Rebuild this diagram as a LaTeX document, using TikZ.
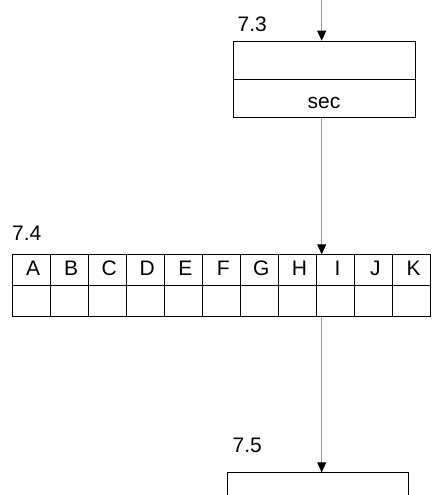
\documentclass[tikz,border=0pt]{standalone}
\usepackage{fontspec}
\setmainfont{Liberation Sans}
\usetikzlibrary{arrows.meta}
\definecolor{linegray}{RGB}{150,150,150}
\tikzset{
  boxline/.style={draw=black, line width=0.9pt, inner sep=0pt},
  cell/.style={boxline, minimum width=38.03pt, minimum height=30.85pt, anchor=north west},
  conn/.style={draw=linegray, line width=0.9pt, -{Triangle[width=9pt,length=10pt,color=black]}},
  txt/.style={inner sep=0pt, anchor=base, font=\fontsize{21}{25}\selectfont},
  lbl/.style={txt, anchor=base west}
}
\begin{document}
\begin{tikzpicture}[x=1pt,y=-1pt]
\useasboundingbox (0,0) rectangle (434,495);
\clip (0,0) rectangle (434,495);
% box 7.3
\node[boxline, minimum width=182.3pt, minimum height=38.6pt, anchor=north west] (b73a) at (232.7,40.7) {};
\node[boxline, minimum width=182.3pt, minimum height=37.4pt, anchor=north west] (b73b) at (232.7,79.3) {};
\node[txt] (sec) at (324,108.5) {sec};
\node[lbl] (l73) at (237.5,31.5) {7.3};
% table 7.4
\foreach \t [count=\i] in {A,B,C,D,E,F,G,H,I,J,K} {
  \node[cell] (c\i) at ({11.7+(\i-1)*38.03},254.3) {};
  \node[cell] (d\i) at ({11.7+(\i-1)*38.03},285.15) {};
  \node[txt] (t\i) at ({11.7+(\i-0.5)*38.03+2.5},275) {\t};
}
\node[lbl] (l74) at (12,240.7) {7.4};
% box 7.5
\node[boxline, minimum width=181.6pt, minimum height=60pt, anchor=north west] (b75) at (226.7,472.3) {};
\node[lbl] (l75) at (232.5,452.3) {7.5};
% connectors
\coordinate (top) at (321.7,-2);
\draw[conn] (top) -- (top |- b73a.north);
\draw[conn] (top |- b73b.south) -- (top |- c9.north);
\draw[conn] (top |- d9.south) -- (top |- b75.north);
\end{tikzpicture}
\end{document}
